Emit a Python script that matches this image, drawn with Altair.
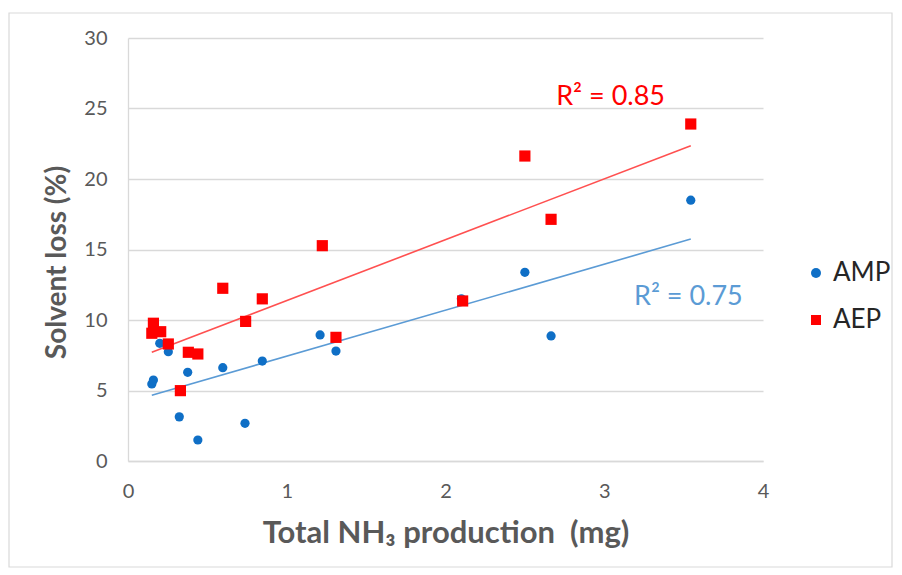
import altair as alt
import pandas as pd

# ---- data ----
amp_x = [0.15, 0.16, 0.20, 0.254, 0.323, 0.376, 0.44, 0.597, 0.737, 0.846, 1.21, 1.31, 2.10, 2.50, 2.665, 3.545]
amp_y = [5.46, 5.74, 8.35, 7.75, 3.13, 6.29, 1.49, 6.62, 2.67, 7.09, 8.94, 7.80, 11.5, 13.38, 8.87, 18.5]
aep_x = [0.15, 0.16, 0.206, 0.254, 0.33, 0.38, 0.44, 0.597, 0.741, 0.846, 1.224, 1.31, 2.108, 2.50, 2.665, 3.545]
aep_y = [9.06, 9.77, 9.17, 8.30, 4.99, 7.71, 7.59, 12.25, 9.90, 11.50, 15.27, 8.77, 11.35, 21.63, 17.14, 23.90]

series_names = ["AMP", "AEP"]
point_colors = ["#0F6FC6", "#FF0000"]
point_shapes = ["circle", "square"]
AMP_LINE, AEP_LINE = "#5B9BD5", "#FF5050"
AMP_TEXT, AEP_TEXT = "#5B9BD5", "#FF0000"

ann_text = ["R² = 0.85", "R² = 0.75"]
ann_x = [3.04, 3.53]
ann_y = [25.8, 11.6]
ann_series = ["AEP", "AMP"]

x_ticks = [0, 1, 2, 3, 4]
y_ticks = [0, 5, 10, 15, 20, 25, 30]

df = pd.DataFrame({
    "x": amp_x + aep_x,
    "y": amp_y + aep_y,
    "series": ["AMP"] * len(amp_x) + ["AEP"] * len(aep_x),
})
ann = pd.DataFrame({"text": ann_text, "x": ann_x, "y": ann_y, "series": ann_series})

FONT = "Lato"
GRAY = "#595959"

xscale = alt.Scale(domain=[0, 4], nice=False)
yscale = alt.Scale(domain=[0, 30], nice=False)

xenc = alt.X("x:Q", scale=xscale, axis=alt.Axis(
    title="Total NH₃ production\u00a0 (mg)", values=x_ticks, format="d", grid=False, ticks=False,
    labelFlush=False, domainColor="#D9D9D9", domainWidth=1.3, labelFontSize=20, labelColor=GRAY,
    labelFont=FONT, labelPadding=20, titleFont=FONT, titleFontSize=31,
    titleFontWeight="bold", titleColor=GRAY, titleY=72, titleBaseline="middle"))
yenc = alt.Y("y:Q", scale=yscale, axis=alt.Axis(
    title="Solvent loss (%)", values=y_ticks, format="d", grid=True, gridColor="#D9D9D9",
    gridWidth=1.3, ticks=False, domainColor="#D9D9D9", domainWidth=1.3,
    labelFontSize=20, labelColor=GRAY, labelFont=FONT, labelPadding=21,
    titleFont=FONT, titleFontSize=28, titleFontWeight="bold", titleColor=GRAY,
    titleX=-57, titleY=224, titleBaseline="bottom"))

legend = alt.Legend(title=None, orient="none", legendX=675, legendY=222,
                    labelFontSize=26, labelFont=FONT, labelColor="#262626",
                    rowPadding=21, symbolSize=100, labelOffset=4)

is_aep = alt.datum.series == "AEP"

frame = alt.Chart(pd.DataFrame({"a": [0]})).mark_rect(
    filled=False, stroke="#D9D9D9", strokeWidth=1.2, clip=False
).encode(x=alt.value(-119), x2=alt.value(764), y=alt.value(-25), y2=alt.value(529))

points = alt.Chart(df).mark_point(filled=True, opacity=1).encode(
    x=xenc, y=yenc,
    color=alt.Color("series:N", scale=alt.Scale(domain=series_names, range=point_colors), legend=legend),
    shape=alt.Shape("series:N", scale=alt.Scale(domain=series_names, range=point_shapes), legend=legend),
    size=alt.condition(is_aep, alt.value(125), alt.value(85)),
)

trend = alt.Chart(df).transform_regression(
    "x", "y", groupby=["series"], extent=[0.15, 3.545]
).mark_line(strokeWidth=1.6).encode(
    x="x:Q", y="y:Q", detail="series:N",
    stroke=alt.condition(is_aep, alt.value(AEP_LINE), alt.value(AMP_LINE)),
)

labels = alt.Chart(ann).mark_text(fontSize=27, font=FONT, align="center", baseline="middle").encode(
    x="x:Q", y="y:Q", text="text:N",
    fill=alt.condition(is_aep, alt.value(AEP_TEXT), alt.value(AMP_TEXT)),
)

chart = alt.layer(frame, trend, points, labels).properties(
    width=635, height=423,
    padding={"left": 120, "top": 30, "right": 131, "bottom": 108},
    autosize=alt.AutoSizeParams(type="none"),
    background="white",
).configure_view(stroke=None)

chart.save("out.html", embed_options={"renderer": "svg", "actions": False})
